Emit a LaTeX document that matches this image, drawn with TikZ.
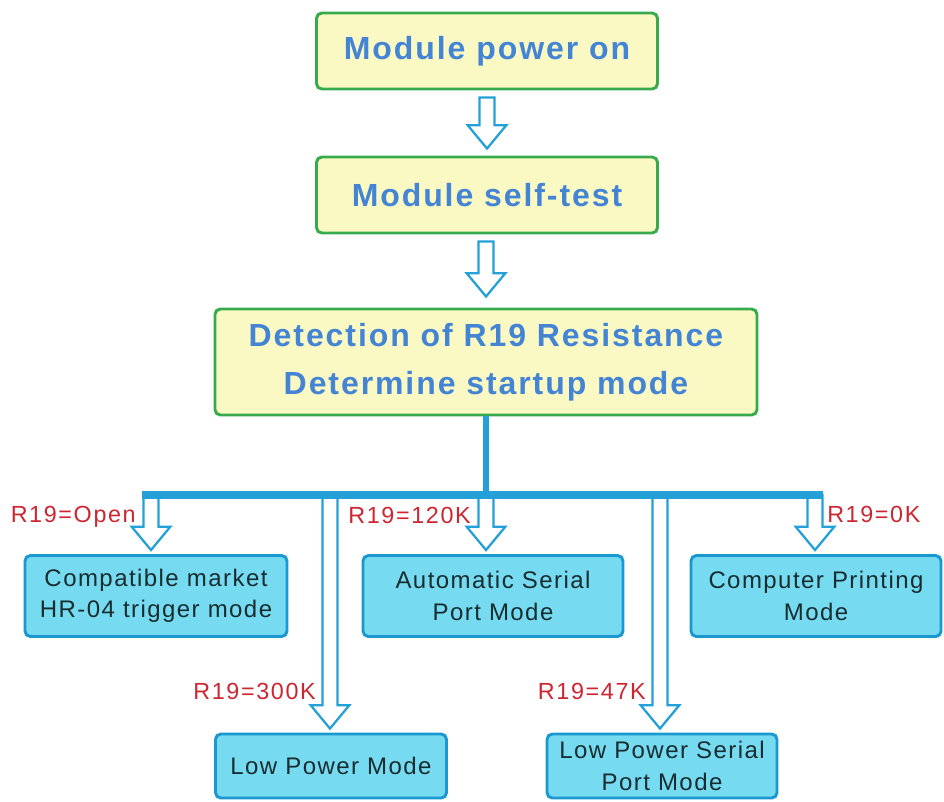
\documentclass[tikz,border=0pt]{standalone}
\usepackage{fontspec}
\setmainfont{Liberation Sans}
\newfontfamily\titlefont[LetterSpace=6]{Liberation Sans}
\newfontfamily\modefont[LetterSpace=6]{Liberation Sans}
\newfontfamily\lblfont[LetterSpace=7]{Liberation Sans}
\usetikzlibrary{calc}

\definecolor{boxgreen}{RGB}{55,170,75}
\definecolor{boxyellow}{RGB}{250,249,196}
\definecolor{titleblue}{RGB}{68,132,212}
\definecolor{modecyan}{RGB}{118,219,241}
\definecolor{modeborder}{RGB}{28,152,208}
\definecolor{modetext}{RGB}{22,44,46}
\definecolor{lblred}{RGB}{205,38,48}
\definecolor{arrowblue}{RGB}{36,160,216}

% hollow block arrow: #1 gives the top of the shaft, #2 the tip
\newcommand{\hollowarrow}[2]{%
	\draw[hollow] let \p1=(#1), \p2=(#2) in
		(\x2-5.6pt,\y1) -- (\x2-5.6pt,\y2+17.5pt) -- (\x2-14.5pt,\y2+17.5pt) -- (\x2,\y2)
		-- (\x2+14.5pt,\y2+17.5pt) -- (\x2+5.6pt,\y2+17.5pt) -- (\x2+5.6pt,\y1) -- cycle;}

\begin{document}
\begin{tikzpicture}[%
	x=0.75pt,y=-0.75pt,
	every node/.style = {inner sep=0pt,align=center},
	topbox/.style = {draw=boxgreen,line width=2.2pt,fill=boxyellow,rounded corners=4pt,text=titleblue,
		font=\titlefont\fontsize{24}{36}\selectfont\bfseries,minimum width=255.75pt,minimum height=57pt},
	modebox/.style = {draw=modeborder,line width=2.2pt,fill=modecyan,rounded corners=4pt,text=modetext,
		font=\modefont\fontsize{18}{23.5}\selectfont,minimum height=60.75pt},
	lowbox/.style = {modebox,minimum height=48pt},
	lbl/.style = {text=lblred,font=\lblfont\fontsize{17.5}{20}\selectfont,anchor=east},
	hollow/.style = {draw=arrowblue,line width=1.7pt,fill=white,line join=miter},
	bus/.style = {draw=arrowblue,line width=6pt},
	stem/.style = {draw=arrowblue,line width=3.8pt}
	]
	\useasboundingbox (0,0) rectangle (944,801);

	\node [topbox] (pon) at (487,51) {Module power on};
	\node [topbox] (test) at (487,195) {Module self-test};
	\node [topbox,minimum width=406.5pt,minimum height=79.5pt] (det) at (486,362)
		{Detection of R19 Resistance\\Determine startup mode};

	\node [modebox,minimum width=196.5pt] (compat) at (156,596) {Compatible market\\HR-04 trigger mode};
	\node [modebox,minimum width=195pt] (auto) at (493,596) {Automatic Serial\\Port Mode};
	\node [modebox,minimum width=187.5pt] (comp) at (816,596) {Computer Printing\\Mode};
	\node [lowbox,minimum width=173.25pt] (lowp) at (331,766) {Low Power Mode};
	\node [lowbox,minimum width=172.5pt] (lps) at (662,766) {Low Power Serial\\Port Mode};

	\hollowarrow{$(pon.south)+(0,7)$}{$(test.north)+(0,-7)$}
	\hollowarrow{$(test.south)+(0,7)$}{$(det.north)+(0,-11)$}

	\coordinate (bOpen) at (151,495);
	\coordinate (b300) at (330,495);
	\coordinate (b120) at (486,495);
	\coordinate (b47) at (660,495);
	\coordinate (b0) at (815,495);

	\hollowarrow{bOpen}{$(bOpen |- compat.north)+(0,-4)$}
	\hollowarrow{b300}{$(b300 |- lowp.north)+(0,-4)$}
	\hollowarrow{b120}{$(b120 |- auto.north)+(0,-4)$}
	\hollowarrow{b47}{$(b47 |- lps.north)+(0,-4)$}
	\hollowarrow{b0}{$(b0 |- comp.north)+(0,-4)$}

	\draw [stem] (det.south) -- (b120);
	\draw [bus] ($(bOpen)+(-9,0)$) -- ($(b0)+(8,0)$);

	\node [lbl] (lOpen) at (136,517) {R19=Open};
	\node [lbl] (l120) at (471,515) {R19=120K};
	\node [lbl,anchor=west] (l0) at (827,514) {R19=0K};
	\node [lbl] (l300) at (316,691) {R19=300K};
	\node [lbl] (l47) at (646,691) {R19=47K};
\end{tikzpicture}
\end{document}
